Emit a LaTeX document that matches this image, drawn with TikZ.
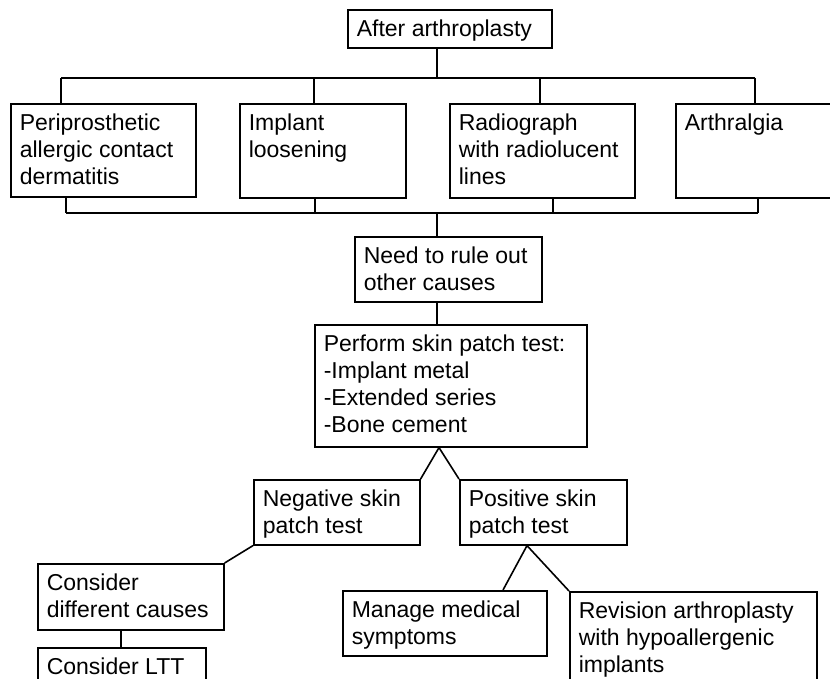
\documentclass[tikz,border=0pt]{standalone}
\usepackage{fontspec}
\setmainfont{Liberation Sans}
\newcommand{\bxt}[3]{\parbox[c][#2pt][t]{#1pt}{\raggedright\rule{0pt}{18pt}#3}}
\begin{document}
\begin{tikzpicture}[x=1pt,y=-1pt,
  fbox/.style={draw=black,line width=1.6pt,inner sep=9pt,anchor=north west,font=\fontsize{23}{27}\selectfont},
  link/.style={draw=black,line width=1.6pt}]
\clip (0,0) rectangle (830,679);
\fill[white] (0,0) rectangle (830,679);
% nodes
\node[fbox] (top)  at (347,9)   {\bxt{186}{20}{After arthroplasty}};
\node[fbox] (b1)   at (10,103)  {\bxt{167}{75}{Periprosthetic\\allergic contact\\dermatitis}};
\node[fbox] (b2)   at (239,103) {\bxt{148}{76}{Implant\\loosening}};
\node[fbox] (b3)   at (449,103) {\bxt{167}{76}{Radiograph\\with radiolucent\\lines}};
\node[fbox] (b4)   at (675,103) {\bxt{162}{76}{Arthralgia}};
\node[fbox] (need) at (354,236) {\bxt{169}{47}{Need to rule out\\other causes}};
\node[fbox] (perf) at (314,324) {\bxt{254}{104}{Perform skin patch test:\\-Implant metal\\-Extended series\\-Bone cement}};
\node[fbox] (neg)  at (253,479) {\bxt{148}{47}{Negative skin\\patch test}};
\node[fbox] (pos)  at (459,479) {\bxt{149}{47}{Positive skin\\patch test}};
\node[fbox] (cons) at (37,563)  {\bxt{168}{48}{Consider\\different causes}};
\node[fbox] (ltt)  at (37,647)  {\bxt{150}{42}{Consider LTT}};
\node[fbox] (man)  at (342,590) {\bxt{186}{47}{Manage medical\\symptoms}};
\node[fbox] (rev)  at (569,591) {\bxt{229}{82}{Revision arthroplasty\\with hypoallergenic\\implants}};
% junction coordinates
\coordinate (s0) at (437,78);
\coordinate (d1) at (61,78);
\coordinate (d2) at (314,78);
\coordinate (d3) at (540,78);
\coordinate (d4) at (755,78);
\coordinate (e0) at (437,213);
\coordinate (e1) at (66,213);
\coordinate (e2) at (315,213);
\coordinate (e3) at (553,213);
\coordinate (e4) at (758,213);
\coordinate (a1) at (439,0);
\coordinate (a2) at (527,0);
\coordinate (c1) at (121,0);
\coordinate (m1) at (503,0);
% connectors
\draw[link] (top.south -| s0) -- (s0);
\draw[link] (d1) -- (d4);
\draw[link] (d1) -- (b1.north -| d1);
\draw[link] (d2) -- (b2.north -| d2);
\draw[link] (d3) -- (b3.north -| d3);
\draw[link] (d4) -- (b4.north -| d4);
\draw[link] (e1) -- (e4);
\draw[link] (b1.south -| e1) -- (e1);
\draw[link] (b2.south -| e2) -- (e2);
\draw[link] (b3.south -| e3) -- (e3);
\draw[link] (b4.south -| e4) -- (e4);
\draw[link] (e0) -- (need.north -| e0);
\draw[link] (need.south -| e0) -- (perf.north -| e0);
\draw[link] (neg.north east) -- (perf.south -| a1) -- (pos.north west);
\draw[link] (neg.south west) -- (cons.north east);
\draw[link] (cons.south -| c1) -- (ltt.north -| c1);
\draw[link] (man.north -| m1) -- (pos.south -| a2) -- (rev.north west);
\end{tikzpicture}
\end{document}
